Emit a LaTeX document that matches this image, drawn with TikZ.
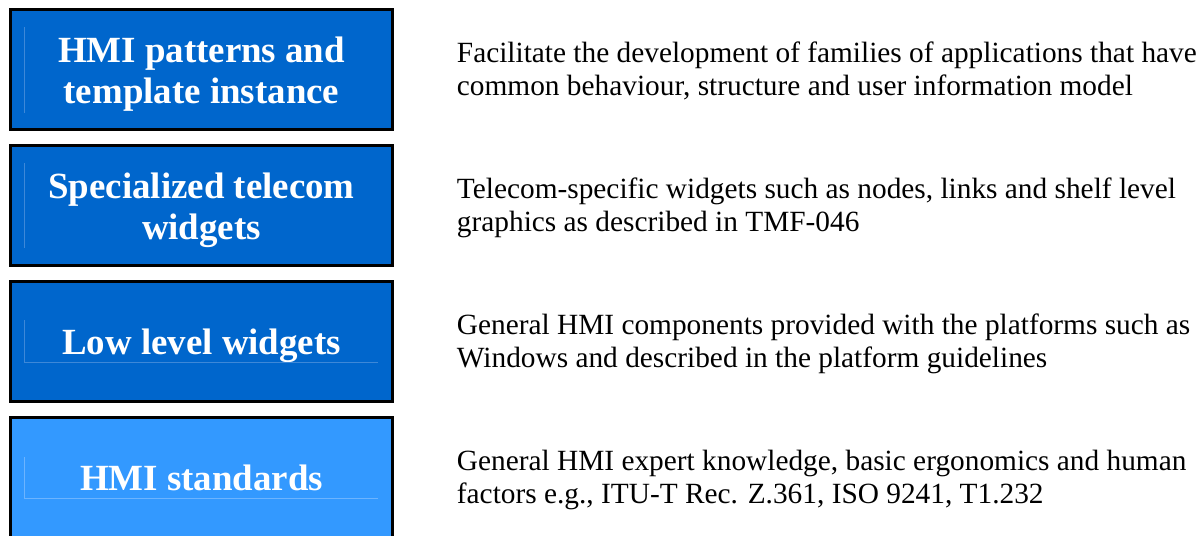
\documentclass[tikz,border=0pt]{standalone}
\usepackage{fontspec}
\setmainfont{Liberation Serif}
\usetikzlibrary{positioning}
\definecolor{darkbox}{HTML}{0066CC}
\definecolor{lightbox}{HTML}{3399FF}
\definecolor{darkrule}{HTML}{3D88D8}
\definecolor{lightrule}{HTML}{6CB4FF}
% struts keeping the baselines in place
\newcommand\boxtop{\rule{0pt}{21pt}}
\newcommand\boxbot{\rule[-6pt]{0pt}{6pt}}
\newcommand\texttop{\rule{0pt}{14.7pt}}
\newcommand\textbot{\rule[-4pt]{0pt}{4pt}}
\begin{document}
\begin{tikzpicture}[x=0.02cm,y=-0.02cm,
    layerbox/.style={draw=black,line width=0.06cm,minimum width=7.64cm,minimum height=2.4cm,
      inner sep=0pt,align=center,text=white,font=\fontsize{21}{23.3}\selectfont\bfseries},
    layertext/.style={inner sep=0pt,outer sep=0pt,align=left,font=\fontsize{16.7}{18.7}\selectfont},
    tbrule/.style={line width=0.02cm}]
                \useasboundingbox (0,0) rectangle (1201,535);
                \clip (0,0) rectangle (1201,535);
                {
                % Drawing box patterns
                \node [layerbox,fill=darkbox] (patterns) at (201.5,69.5) {\boxtop HMI patterns and\\template instance\boxbot};%
                \draw [tbrule,darkrule] (patterns.center) ++(-177.5,-42.5) -- ++(0,86);%

                % Drawing box telecom
                \node [layerbox,fill=darkbox,below=0.26cm of patterns] (telecom) {\boxtop Specialized telecom\\widgets\boxbot};%
                \draw [tbrule,darkrule] (telecom.center) ++(-177.5,-42.5) -- ++(0,85);%

                % Drawing box lowlevel
                \node [layerbox,fill=darkbox,below=0.26cm of telecom] (lowlevel) {\boxtop Low level widgets\boxbot};%
                \draw [tbrule,darkrule] (lowlevel.center) ++(-177.5,-21.5) -- ++(0,43) -- ++(354,0);%

                % Drawing box standards
                \node [layerbox,fill=lightbox,below=0.26cm of lowlevel] (standards) {\boxtop HMI standards\boxbot};%
                \draw [tbrule,lightrule] (standards.center) ++(-177.5,-20.5) -- ++(0,42) -- ++(354,0);%

                % Marking the text of each box
                \node [layertext,right=1.26cm of patterns] (patternstext) {\texttop Facilitate the development of families of applications that have\\common behaviour, structure and user information model\textbot};%
                \node [layertext,right=1.26cm of telecom] (telecomtext) {\texttop Telecom-specific widgets such as nodes, links and shelf level\\graphics as described in TMF-046\textbot};%
                \node [layertext,right=1.26cm of lowlevel] (lowleveltext) {\texttop General HMI components provided with the platforms such as\\Windows and described in the platform guidelines\textbot};%
                \node [layertext,right=1.26cm of standards] (standardstext) {\texttop General HMI expert knowledge, basic ergonomics and human\\factors e.g., ITU-T Rec. Z.361, ISO 9241, T1.232\textbot};%
                }
\end{tikzpicture}
\end{document}
